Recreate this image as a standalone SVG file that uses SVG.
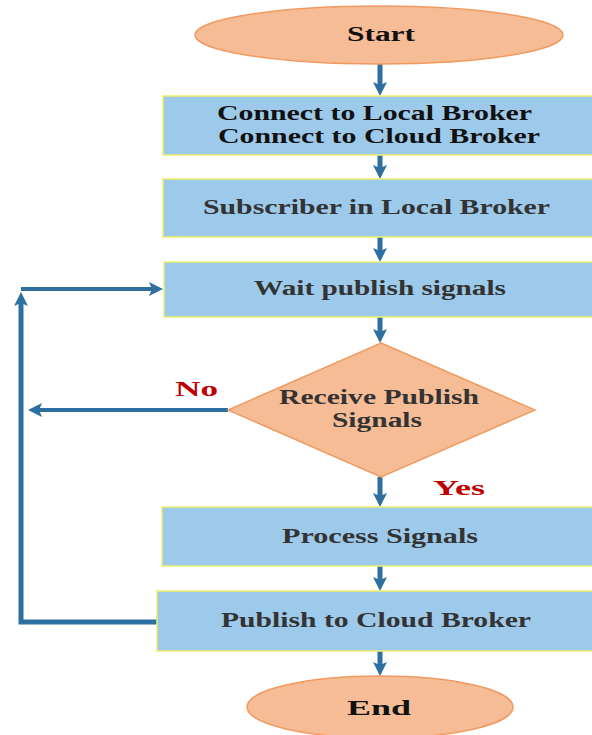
<svg xmlns="http://www.w3.org/2000/svg" width="592" height="735" viewBox="0 0 592 735">
  <style>
    .proc { fill: #9DCAEB; stroke: #EEF06A; stroke-width: 1.5; }
    .term { fill: #F6BC96; stroke: #F09A60; stroke-width: 1.5; }
    .lbl { font-family: "Liberation Serif", "Times New Roman", serif; font-weight: bold; font-size: 20px; fill: #333333; }
    .dark { fill: #111111; }
    .cond { font-family: "Liberation Serif", "Times New Roman", serif; font-weight: bold; font-size: 21px; fill: #C00000; }
    .flow { fill: none; stroke: #2E6FA2; stroke-width: 5; }
    .thin { stroke-width: 4; }
  </style>
  <defs>
    <marker id="head" viewBox="0 0 14 14" refX="7" refY="7" markerWidth="14" markerHeight="14" markerUnits="userSpaceOnUse" orient="auto">
      <path d="M0,0 L14,7 L0,14 L3,7 Z" fill="#2E6FA2"/>
    </marker>
  </defs>

  <!-- connectors -->
  <g id="connectors">
    <path class="flow" d="M380,63 V89" marker-end="url(#head)"/>
    <path class="flow" d="M380,155 V172" marker-end="url(#head)"/>
    <path class="flow" d="M380,237 V255" marker-end="url(#head)"/>
    <path class="flow" d="M380,317 V336" marker-end="url(#head)"/>
    <path class="flow" d="M380,477 V500" marker-end="url(#head)"/>
    <path class="flow" d="M380,566 V584" marker-end="url(#head)"/>
    <path class="flow" d="M380,651 V669" marker-end="url(#head)"/>
    <!-- "No" branch back to the loop rail -->
    <path class="flow thin" d="M228,410 H35" marker-end="url(#head)"/>
    <!-- loop rail from Publish back up to Wait -->
    <path class="flow" d="M157,622 H21 V299" marker-end="url(#head)"/>
    <path class="flow thin" d="M21,289 H156" marker-end="url(#head)"/>
  </g>

  <g id="start">
    <ellipse class="term" cx="379" cy="35" rx="184" ry="29"/>
    <text class="lbl dark" x="347" y="41" textLength="68" lengthAdjust="spacingAndGlyphs">Start</text>
  </g>

  <g id="connect">
    <rect class="proc" x="163" y="96" width="440" height="59"/>
    <text class="lbl dark" x="217" y="120" textLength="315" lengthAdjust="spacingAndGlyphs">Connect to Local Broker</text>
    <text class="lbl dark" x="218" y="143" textLength="322" lengthAdjust="spacingAndGlyphs">Connect to Cloud Broker</text>
  </g>

  <g id="subscribe">
    <rect class="proc" x="163" y="179" width="440" height="58"/>
    <text class="lbl" x="203" y="214" textLength="347" lengthAdjust="spacingAndGlyphs">Subscriber in Local Broker</text>
  </g>

  <g id="wait">
    <rect class="proc" x="164" y="262" width="440" height="55"/>
    <text class="lbl" x="254" y="295" textLength="252" lengthAdjust="spacingAndGlyphs">Wait publish signals</text>
  </g>

  <g id="decision">
    <polygon class="term" points="381,343 535,410 381,477 228,410"/>
    <text class="lbl" x="279" y="404" textLength="200" lengthAdjust="spacingAndGlyphs">Receive Publish</text>
    <text class="lbl" x="332" y="427" textLength="90" lengthAdjust="spacingAndGlyphs">Signals</text>
    <text class="cond" x="175" y="396" textLength="43" lengthAdjust="spacingAndGlyphs">No</text>
    <text class="cond" x="433" y="495" textLength="52" lengthAdjust="spacingAndGlyphs">Yes</text>
  </g>

  <g id="process">
    <rect class="proc" x="162" y="507" width="440" height="59"/>
    <text class="lbl" x="282" y="543" textLength="196" lengthAdjust="spacingAndGlyphs">Process Signals</text>
  </g>

  <g id="publish">
    <rect class="proc" x="157" y="591" width="445" height="60"/>
    <text class="lbl" x="221" y="627" textLength="310" lengthAdjust="spacingAndGlyphs">Publish to Cloud Broker</text>
  </g>

  <g id="end">
    <ellipse class="term" cx="380" cy="707" rx="133" ry="31"/>
    <text class="lbl dark" x="347" y="715" textLength="64" lengthAdjust="spacingAndGlyphs" font-size="22">End</text>
  </g>
</svg>
